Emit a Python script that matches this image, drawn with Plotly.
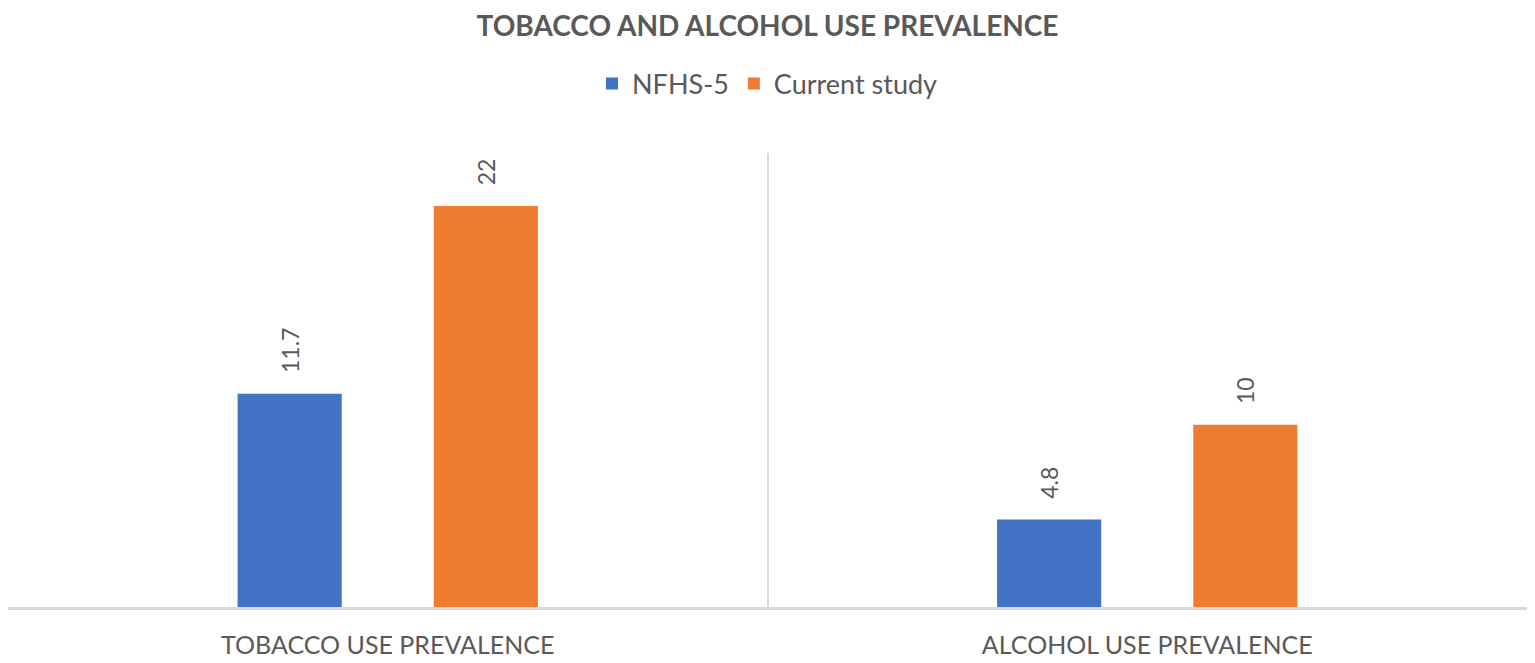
import plotly.graph_objects as go

categories = ["TOBACCO USE PREVALENCE", "ALCOHOL USE PREVALENCE"]
nfhs5 = [11.7, 4.8]
current_study = [22, 10]
series_names = ["NFHS-5", "Current study"]

FONT = "Lato, Open Sans, sans-serif"
GRAY = "#595959"
LINE = "#D9D9D9"

fig = go.Figure()
for vals, name, color in [(nfhs5, series_names[0], "#4472C4"),
                          (current_study, series_names[1], "#ED7D31")]:
    fig.add_trace(go.Bar(
        x=categories, y=vals, name=name,
        marker=dict(color=color, line=dict(width=0)),
        texttemplate="\u00a0\u00a0\u00a0%{y}", textposition="outside", textangle=-90,
        textfont=dict(family=FONT, size=23, color=GRAY), cliponaxis=False,
    ))

fig.update_layout(
    width=1535, height=663,
    margin=dict(l=0, r=16, t=145, b=64),
    paper_bgcolor="white", plot_bgcolor="white",
    barmode="group", bargap=0.4835, bargroupgap=0.469,
    title=dict(text="<b>TOBACCO AND ALCOHOL USE PREVALENCE</b>",
               x=(1535 - 16) / 2 / 1535, xanchor="center", y=1 - 18 / 663, yanchor="middle",
               font=dict(family=FONT, size=28, color=GRAY)),
    legend=dict(orientation="h", x=0.5, xanchor="center", y=1 + 69 / 454, yanchor="middle",
                font=dict(family=FONT, size=27, color=GRAY),
                traceorder="normal", bgcolor="rgba(0,0,0,0)"),
    showlegend=True,
)
fig.update_xaxes(
    type="category", tickson="boundaries", showgrid=True, gridcolor=LINE, gridwidth=2,
    showline=True, linecolor=LINE, linewidth=3, ticks="", ticklabelstandoff=14,
    tickfont=dict(family=FONT, size=25, color=GRAY),
)
fig.update_yaxes(range=[0, 24.9], showgrid=False, showticklabels=False, zeroline=False,
                 showline=True, mirror=True, linecolor=LINE, linewidth=2)

fig.write_html("out.html")
